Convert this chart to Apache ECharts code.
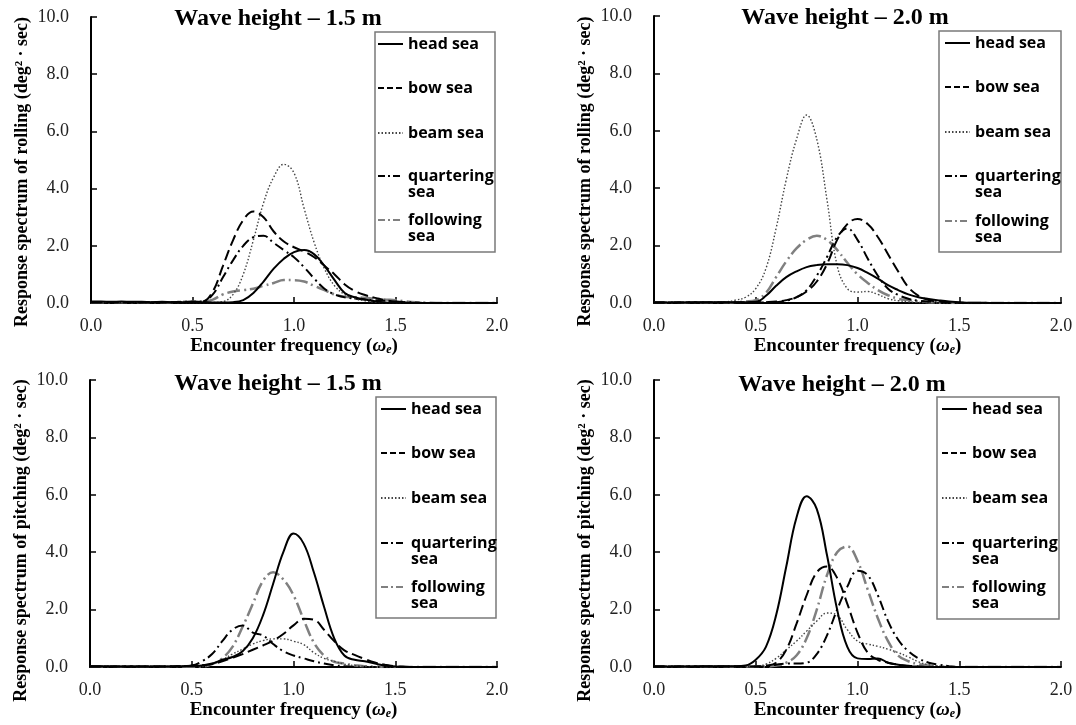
<!DOCTYPE html>
<html>
<head>
<meta charset="utf-8">
<title>Response spectra of rolling and pitching</title>
<script src="https://cdn.jsdelivr.net/npm/echarts@6/dist/echarts.min.js"></script>
<style>
  html, body { margin: 0; padding: 0; background: #fff; }
  #chart { width: 1076px; height: 725px; }
</style>
</head>
<body>
<div id="chart"></div>
<script>
// encounter frequency (x)
const freq = [0, 0.05, 0.1, 0.15, 0.2, 0.25, 0.3, 0.35, 0.4, 0.45,
  0.5, 0.55, 0.6, 0.65, 0.7, 0.75, 0.8, 0.85, 0.9, 0.95,
  1, 1.05, 1.1, 1.15, 1.2, 1.25, 1.3, 1.35, 1.4, 1.45,
  1.5, 1.55, 1.6, 1.65, 1.7, 1.75, 1.8, 1.85, 1.9, 1.95, 2];

const seriesNames = ['head sea', 'bow sea', 'beam sea', 'quartering sea', 'following sea'];
const legendLabels = ['head sea', 'bow sea', 'beam sea', 'quartering\nsea', 'following\nsea'];

// rolling, wave height 1.5 m
const rollHead15 = [0.05,0.05,0.04,0.05,0.04,0.04,0.03,0.04,0.03,0.03, 0.04,0.03,0.02,0.02,0.03,0.10,0.35,0.75,1.20,1.55, 1.78,1.85,1.70,1.30,0.80,0.35,0.20,0.12,0.06,0.02, 0.01,0,0,0,0,0,0,0,0,0, 0];
const rollBow15 = [0.03,0.03,0.03,0.02,0.03,0.02,0.03,0.02,0.03,0.03, 0.03,0.05,0.40,1.30,2.20,2.90,3.20,3.00,2.50,2.15, 1.95,1.80,1.60,1.30,1.00,0.65,0.42,0.28,0.18,0.10, 0.05,0.02,0,0,0,0,0,0,0,0, 0];
const rollBeam15 = [0.02,0.02,0.02,0.02,0.02,0.02,0.02,0.02,0.02,0.02, 0.02,0.02,0.02,0.05,0.30,1.00,2.20,3.50,4.40,4.85, 4.55,3.30,2.10,1.20,0.60,0.30,0.15,0.08,0.03,0.01, 0,0,0,0,0,0,0,0,0,0, 0];
const rollQuarter15 = [0.03,0.03,0.03,0.03,0.03,0.03,0.03,0.03,0.03,0.04, 0.04,0.05,0.30,0.90,1.50,2.00,2.30,2.35,2.10,1.85, 1.60,1.25,0.85,0.50,0.30,0.20,0.15,0.12,0.10,0.08, 0.05,0.03,0.02,0,0,0,0,0,0,0, 0];
const rollFollow15 = [0.03,0.03,0.03,0.03,0.03,0.03,0.03,0.03,0.03,0.04, 0.05,0.06,0.12,0.30,0.40,0.45,0.50,0.60,0.70,0.80, 0.80,0.75,0.60,0.45,0.30,0.22,0.20,0.18,0.15,0.12, 0.10,0.06,0.03,0.01,0,0,0,0,0,0, 0];

// rolling, wave height 2.0 m
const rollHead20 = [0.02,0.02,0.02,0.02,0.03,0.03,0.03,0.03,0.03,0.03, 0.04,0.25,0.60,0.90,1.10,1.25,1.32,1.35,1.35,1.32, 1.22,1.05,0.85,0.62,0.45,0.30,0.20,0.14,0.09,0.05, 0.03,0.01,0.01,0,0,0,0,0,0,0, 0];
const rollBow20 = [0.02,0.02,0.02,0.02,0.02,0.02,0.02,0.02,0.02,0.02, 0.02,0.03,0.05,0.10,0.20,0.40,0.75,1.35,2.20,2.75, 2.93,2.75,2.30,1.70,1.10,0.55,0.25,0.10,0.05,0.02, 0.01,0,0,0,0,0,0,0,0,0, 0];
const rollBeam20 = [0.02,0.02,0.02,0.02,0.02,0.02,0.03,0.04,0.10,0.20, 0.50,1.20,2.60,4.30,5.70,6.55,5.70,3.60,1.30,0.50, 0.38,0.40,0.30,0.15,0.08,0.04,0.02,0,0,0, 0,0,0,0,0,0,0,0,0,0, 0];
const rollQuarter20 = [0.02,0.02,0.02,0.02,0.02,0.02,0.02,0.02,0.02,0.02, 0.02,0.02,0.03,0.08,0.20,0.45,0.95,1.60,2.30,2.60, 2.20,1.55,0.95,0.50,0.28,0.15,0.08,0.04,0.02,0, 0,0,0,0,0,0,0,0,0,0, 0];
const rollFollow20 = [0.02,0.02,0.02,0.02,0.02,0.02,0.02,0.02,0.03,0.05, 0.10,0.35,0.90,1.45,1.90,2.20,2.34,2.20,1.85,1.40, 1.00,0.70,0.45,0.27,0.15,0.10,0.06,0.03,0.01,0, 0,0,0,0,0,0,0,0,0,0, 0];

// pitching, wave height 1.5 m
const pitchHead15 = [0.03,0.03,0.02,0.02,0.02,0.02,0.02,0.02,0.02,0.03, 0.04,0.05,0.12,0.25,0.35,0.55,1.00,1.80,2.90,4.00, 4.65,4.30,3.30,2.10,1.00,0.40,0.25,0.20,0.12,0.05, 0.02,0,0,0,0,0,0,0,0,0, 0];
const pitchBow15 = [0.02,0.02,0.02,0.02,0.02,0.02,0.02,0.02,0.02,0.03, 0.04,0.06,0.10,0.20,0.32,0.45,0.60,0.75,0.92,1.15, 1.45,1.68,1.65,1.30,0.90,0.58,0.42,0.28,0.16,0.08, 0.03,0.01,0,0,0,0,0,0,0,0, 0];
const pitchBeam15 = [0.02,0.02,0.02,0.02,0.02,0.02,0.02,0.02,0.02,0.02, 0.02,0.02,0.10,0.25,0.45,0.62,0.80,0.92,0.98,0.98, 0.90,0.78,0.50,0.30,0.20,0.10,0.05,0.02,0,0, 0,0,0,0,0,0,0,0,0,0, 0];
const pitchQuarter15 = [0.02,0.02,0.02,0.02,0.02,0.02,0.02,0.02,0.02,0.03, 0.05,0.20,0.45,0.90,1.30,1.45,1.20,1.10,0.80,0.55, 0.40,0.30,0.20,0.12,0.06,0.03,0.01,0,0,0, 0,0,0,0,0,0,0,0,0,0, 0];
const pitchFollow15 = [0.02,0.02,0.02,0.02,0.02,0.02,0.02,0.02,0.02,0.02, 0.02,0.02,0.10,0.30,0.70,1.40,2.20,3.00,3.30,3.05, 2.50,1.65,0.85,0.40,0.18,0.12,0.06,0.03,0.01,0, 0,0,0,0,0,0,0,0,0,0, 0];

// pitching, wave height 2.0 m
const pitchHead20 = [0.02,0.02,0.02,0.02,0.02,0.03,0.03,0.03,0.03,0.05, 0.25,0.70,1.80,3.50,5.20,5.95,5.50,3.90,2.00,0.70, 0.30,0.28,0.30,0.15,0.08,0.03,0.01,0,0,0, 0,0,0,0,0,0,0,0,0,0, 0];
const pitchBow20 = [0.02,0.02,0.02,0.02,0.02,0.02,0.02,0.02,0.02,0.02, 0.02,0.05,0.15,0.60,1.50,2.50,3.30,3.50,3.10,2.20, 1.20,0.50,0.25,0.15,0.08,0.04,0.02,0,0,0, 0,0,0,0,0,0,0,0,0,0, 0];
const pitchBeam20 = [0.02,0.02,0.02,0.02,0.02,0.02,0.02,0.02,0.02,0.02, 0.02,0.10,0.30,0.60,0.90,1.25,1.60,1.88,1.80,1.30, 0.90,0.80,0.72,0.62,0.50,0.35,0.18,0.08,0.03,0.01, 0,0,0,0,0,0,0,0,0,0, 0];
const pitchQuarter20 = [0.02,0.02,0.02,0.02,0.02,0.02,0.02,0.02,0.02,0.02, 0.02,0.02,0.08,0.12,0.12,0.15,0.45,1.10,2.00,2.80, 3.35,3.20,2.50,1.60,0.95,0.55,0.30,0.15,0.08,0.03, 0,0,0,0,0,0,0,0,0,0, 0];
const pitchFollow20 = [0.02,0.02,0.02,0.02,0.02,0.02,0.02,0.02,0.02,0.02, 0.02,0.02,0.05,0.15,0.40,1.00,2.00,3.20,4.00,4.20, 3.70,2.70,1.70,0.90,0.40,0.20,0.10,0.05,0.02,0, 0,0,0,0,0,0,0,0,0,0, 0];

const lineStyles = [
  { color: '#000', width: 2, type: 'solid' },
  { color: '#000', width: 2, type: [11, 5] },
  { color: '#444', width: 1.4, type: [1.5, 2] },
  { color: '#000', width: 2, type: [10, 4, 2, 4] },
  { color: '#808080', width: 2.5, type: [13, 4, 2, 4] }
];
// shorter dash patterns for the small legend samples
const legendDash = ['solid', [6, 3], [1.5, 2], [7, 3, 2, 3], [7, 3, 2, 3]];

const serif = 'Liberation Serif';

// layout of the four panels
const panels = [
  {
    grid: { left: 91, top: 17, width: 406, height: 286 },
    title: 'Wave height \u2013 1.5 m', titleX: 278, titleY: 7,
    yName: 'Response spectrum of rolling (deg\u00b2 \u00b7 sec)', yShift: 24,
    values: [rollHead15, rollBow15, rollBeam15, rollQuarter15, rollFollow15],
    legendX: 377, legendY: [44, 88, 133, 176, 220], box: [375, 32, 120, 220]
  },
  {
    grid: { left: 654, top: 16, width: 407, height: 287 },
    title: 'Wave height \u2013 2.0 m', titleX: 845, titleY: 6,
    yName: 'Response spectrum of rolling (deg\u00b2 \u00b7 sec)', yShift: 24,
    values: [rollHead20, rollBow20, rollBeam20, rollQuarter20, rollFollow20],
    legendX: 944, legendY: [43, 87, 132, 176, 221], box: [939, 31, 122, 221]
  },
  {
    grid: { left: 90, top: 380, width: 407, height: 287 },
    title: 'Wave height \u2013 1.5 m', titleX: 278, titleY: 372,
    yName: 'Response spectrum of pitching (deg\u00b2 \u00b7 sec)', yShift: 34,
    values: [pitchHead15, pitchBow15, pitchBeam15, pitchQuarter15, pitchFollow15],
    legendX: 380, legendY: [409, 453, 498, 543, 587], box: [376, 397, 120, 221]
  },
  {
    grid: { left: 654, top: 380, width: 407, height: 287 },
    title: 'Wave height \u2013 2.0 m', titleX: 842, titleY: 373,
    yName: 'Response spectrum of pitching (deg\u00b2 \u00b7 sec)', yShift: 34,
    values: [pitchHead20, pitchBow20, pitchBeam20, pitchQuarter20, pitchFollow20],
    legendX: 941, legendY: [409, 453, 498, 543, 587], box: [937, 397, 122, 222]
  }
];

const titles = [], grids = [], xAxes = [], yAxes = [], series = [], legends = [], frames = [];

panels.forEach((p, pi) => {
  titles.push({
    text: p.title, left: p.titleX, top: p.titleY, textAlign: 'center', padding: 0,
    textStyle: { fontFamily: serif, fontWeight: 'bold', fontSize: 24, color: '#000' }
  });
  grids.push(p.grid);
  xAxes.push({
    gridIndex: pi, type: 'value', min: 0, max: 2, interval: 0.5,
    name: 'Encounter frequency ({w|\u03c9}{e|e})',
    nameLocation: 'middle', nameGap: 33,
    nameTextStyle: {
      fontFamily: serif, fontWeight: 'bold', fontSize: 19, color: '#000',
      rich: {
        w: { fontFamily: serif, fontWeight: 'bold', fontStyle: 'italic', fontSize: 19, color: '#000' },
        e: { fontFamily: serif, fontWeight: 'bold', fontStyle: 'italic', fontSize: 12, color: '#000', verticalAlign: 'bottom', padding: [8, 0, 0, 0] }
      }
    },
    axisLine: { show: true, onZero: false, lineStyle: { color: '#000', width: 2 } },
    axisTick: { show: true, inside: true, length: 6, lineStyle: { color: '#000', width: 1.5 } },
    axisLabel: { margin: 14, color: '#222', fontFamily: serif, fontSize: 18, formatter: v => v.toFixed(1) },
    splitLine: { show: false }
  });
  yAxes.push({
    gridIndex: pi, type: 'value', min: 0, max: 10, interval: 2,
    name: p.yName, nameLocation: 'middle', nameGap: 60,
    nameTextStyle: { fontFamily: serif, fontWeight: 'bold', fontSize: 18, color: '#000', padding: [0, p.yShift, 0, 0] },
    axisLine: { show: true, lineStyle: { color: '#000', width: 2 } },
    axisTick: { show: true, inside: true, length: 6, lineStyle: { color: '#000', width: 1.5 } },
    axisLabel: { margin: 22, color: '#222', fontFamily: serif, fontSize: 18, formatter: v => v.toFixed(1) },
    splitLine: { show: false }
  });
  p.values.forEach((vals, si) => {
    series.push({
      name: seriesNames[si], type: 'line', xAxisIndex: pi, yAxisIndex: pi,
      data: freq.map((f, k) => [f, vals[k]]),
      smooth: 0.4, symbol: 'none', showSymbol: false,
      lineStyle: lineStyles[si], itemStyle: { color: lineStyles[si].color },
      z: 5 - si
    });
    // one legend per entry so two-line labels keep the line beside their first row
    const label = legendLabels[si];
    legends.push({
      data: [seriesNames[si]], orient: 'vertical', selectedMode: false,
      left: p.legendX, top: p.legendY[si] - 24, padding: 0,
      itemWidth: 25, itemHeight: 12,
      itemStyle: { opacity: 0 },
      lineStyle: { type: legendDash[si] },
      formatter: () => ' \n' + label + (label.indexOf('\n') < 0 ? '\n ' : ''),
      textStyle: { fontFamily: 'Open Sans', fontWeight: 'bold', fontSize: 16, lineHeight: 16, color: '#000' }
    });
  });
  frames.push({
    type: 'rect', silent: true,
    shape: { x: p.box[0], y: p.box[1], width: p.box[2], height: p.box[3] },
    style: { fill: 'none', stroke: '#7a7a7a', lineWidth: 1.5 }
  });
});

const chart = echarts.init(document.getElementById('chart'));
chart.setOption({
  backgroundColor: '#fff',
  animation: false,
  title: titles,
  grid: grids,
  xAxis: xAxes,
  yAxis: yAxes,
  legend: legends,
  graphic: frames,
  series: series
});
</script>
</body>
</html>
